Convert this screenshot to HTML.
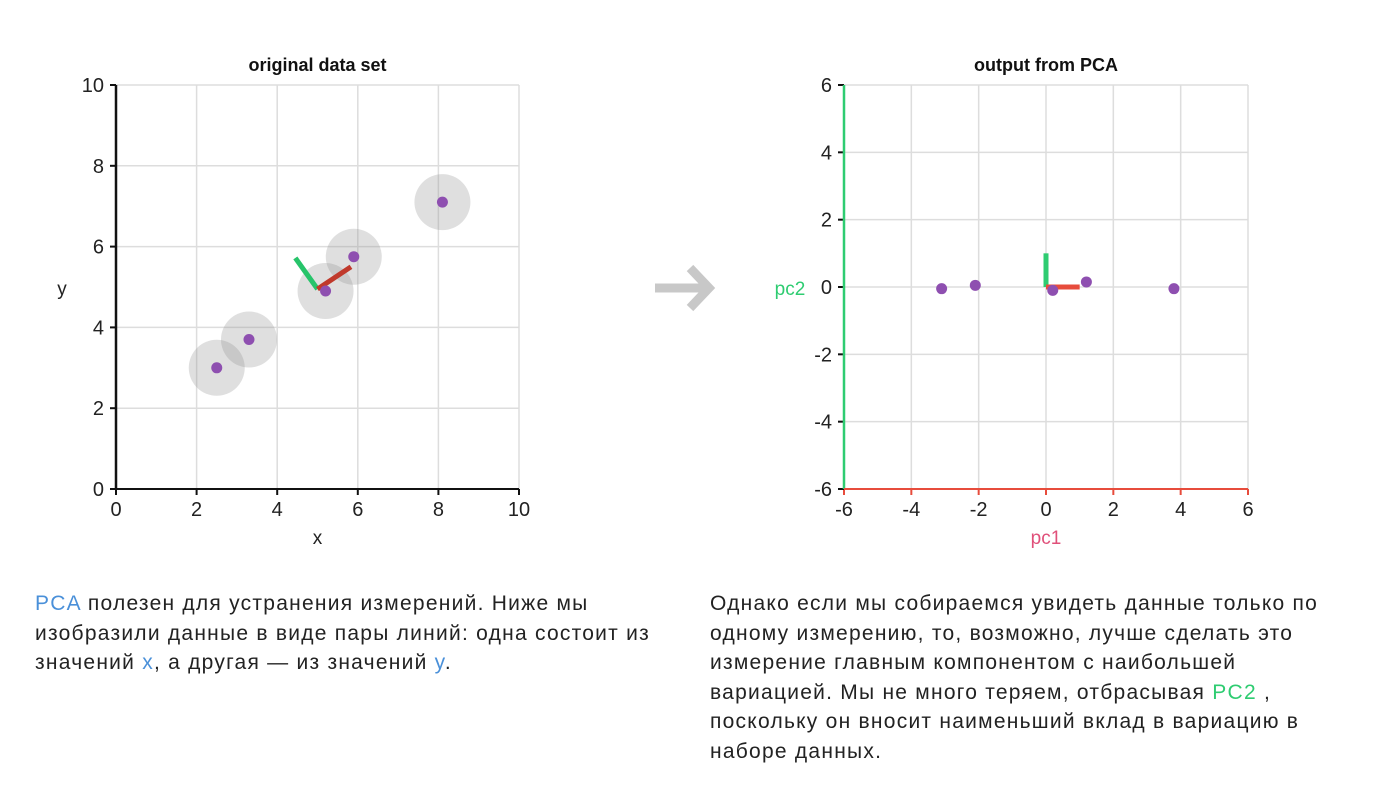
<!DOCTYPE html>
<html><head><meta charset="utf-8"><style>
body{margin:0;width:1399px;height:787px;background:#fff;font-family:"Liberation Sans",sans-serif;overflow:hidden;position:relative}
.p{position:absolute;font-size:21px;letter-spacing:1.25px;line-height:29.5px;color:#222;margin:0;white-space:nowrap}
svg text{font-family:"Liberation Sans",sans-serif}
</style></head><body>
<svg id="svg" width="1399" height="787" style="position:absolute;left:0;top:0"></svg>
<p class="p" style="left:35px;top:589px"><span style="color:#4a90d9">PCA</span> полезен для устранения измерений. Ниже мы<br>изобразили данные в виде пары линий: одна состоит из<br>значений <span style="color:#4a90d9">x</span>, а другая — из значений <span style="color:#4a90d9">y</span>.</p>
<p class="p" style="left:710px;top:589px">Однако если мы собираемся увидеть данные только по<br>одному измерению, то, возможно, лучше сделать это<br>измерение главным компонентом с наибольшей<br>вариацией. Мы не много теряем, отбрасывая <span style="color:#2ecc71">PC2</span> ,<br>поскольку он вносит наименьший вклад в вариацию в<br>наборе данных.</p>
<script>
const origX=[2.5,3.3,5.2,5.9,8.1];
const origY=[3.0,3.7,4.9,5.75,7.1];
const pcaX=[-3.1,-2.1,0.2,1.2,3.8];
const pcaY=[-0.05,0.05,-0.1,0.15,-0.05];
const leftTicks=[0,2,4,6,8,10];
const rightTicks=[-6,-4,-2,0,2,4,6];
const meanPt=[5.0,4.95];
const pc1End=[5.83,5.5];
const pc2End=[4.45,5.72];
const NS='http://www.w3.org/2000/svg';
const svg=document.getElementById('svg');
function mk(t,a,txt){const e=document.createElementNS(NS,t);for(const k in a)e.setAttribute(k,a[k]);if(txt!==undefined)e.textContent=txt;svg.appendChild(e);return e;}
function chart(x0,x1,y0,y1,dmin,dmax,ticks,xs,ys,opts){
 const sx=v=>x0+(v-dmin)/(dmax-dmin)*(x1-x0);
 const sy=v=>y1-(v-dmin)/(dmax-dmin)*(y1-y0);
 ticks.forEach(t=>{
  let g=mk('line',{x1:sx(t),x2:sx(t),y1:y0,y2:y1,stroke:'#ddd','stroke-width':1.5});
  
  g=mk('line',{x1:x0,x2:x1,y1:sy(t),y2:sy(t),stroke:'#ddd','stroke-width':1.5});
  
  let l=mk('text',{x:sx(t),y:y1+27,'text-anchor':'middle','font-size':20,fill:'#222'},String(t));
  
  l=mk('text',{x:x0-12,y:sy(t)+7,'text-anchor':'end','font-size':20,fill:'#222'},String(t));
  
  mk('line',{x1:sx(t),x2:sx(t),y1:y1,y2:y1+6,stroke:opts.xc,'stroke-width':2});
  mk('line',{x1:x0-6,x2:x0,y1:sy(t),y2:sy(t),stroke:'#111','stroke-width':2});
 });
 let a=mk('line',{x1:x0,x2:x0,y1:y0,y2:y1,stroke:opts.yc,'stroke-width':2.5});
 
 a=mk('line',{x1:x0,x2:x1,y1:y1,y2:y1,stroke:opts.xc,'stroke-width':2});
 
 let t=mk('text',{x:(x0+x1)/2,y:y0-14,'text-anchor':'middle','font-size':18,'font-weight':'bold',fill:'#111'},opts.title);
 
 t=mk('text',{x:(x0+x1)/2,y:y1+55,'text-anchor':'middle','font-size':19,fill:opts.xlc},opts.xl);
 
 t=mk('text',{x:opts.ylx,y:(y0+y1)/2+8,'text-anchor':'middle','font-size':19,fill:opts.ylc},opts.yl);
 
 if(opts.halo) xs.forEach((v,i)=>{const c=mk('circle',{cx:sx(v),cy:sy(ys[i]),r:28,fill:'rgba(150,150,150,0.3)'});
  });
 opts.vec(sx,sy);
 xs.forEach((v,i)=>{const c=mk('circle',{cx:sx(v),cy:sy(ys[i]),r:5.5,fill:'#8e4fb0'});
  });
}
chart(116,519,85,489,0,10,leftTicks,origX,origY,{title:'original data set',xl:'x',yl:'y',xc:'#111',yc:'#111',xlc:'#222',ylc:'#222',ylx:62,halo:true,
 vec:(sx,sy)=>{let l=mk('line',{x1:sx(meanPt[0]),y1:sy(meanPt[1]),x2:sx(pc2End[0]),y2:sy(pc2End[1]),stroke:'#27c46a','stroke-width':5});
  
  l=mk('line',{x1:sx(meanPt[0]),y1:sy(meanPt[1]),x2:sx(pc1End[0]),y2:sy(pc1End[1]),stroke:'#c0392b','stroke-width':5});
  }});
chart(844,1248,85,489,-6,6,rightTicks,pcaX,pcaY,{title:'output from PCA',xl:'pc1',yl:'pc2',xc:'#e74c3c',yc:'#2ecc71',xlc:'#e0507a',ylc:'#2ecc71',ylx:790,halo:false,
 vec:(sx,sy)=>{let l=mk('line',{x1:sx(0),y1:sy(0),x2:sx(0),y2:sy(1),stroke:'#2ecc71','stroke-width':5});
  
  l=mk('line',{x1:sx(0),y1:sy(0),x2:sx(1),y2:sy(0),stroke:'#e74c3c','stroke-width':5});
  }});
const ar=mk('path',{d:'M655 288 H705 M690 268 L709 288 L690 308',stroke:'#c8c8c8','stroke-width':9,fill:'none'});


</script>
</body></html>
